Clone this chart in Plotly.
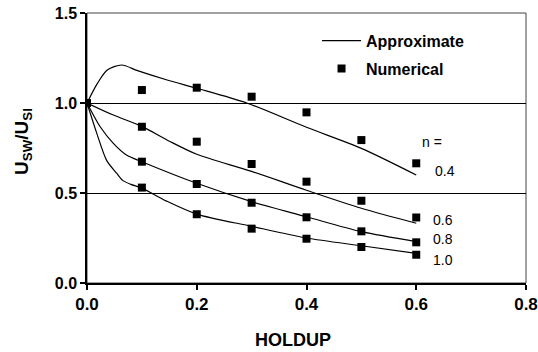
import plotly.graph_objects as go

# ---- data ----
n_values = ["0.4", "0.6", "0.8", "1.0"]

# numerical results (markers)
holdup_num = [0.0, 0.1, 0.2, 0.3, 0.4, 0.5, 0.6]
num_n04 = [1.0, 1.072, 1.085, 1.035, 0.948, 0.794, 0.665]
num_n06 = [1.0, 0.868, 0.785, 0.661, 0.563, 0.457, 0.364]
num_n08 = [1.0, 0.674, 0.550, 0.446, 0.365, 0.287, 0.226]
num_n10 = [1.0, 0.530, 0.382, 0.302, 0.246, 0.200, 0.157]

# approximate solution (curves)
apx_x_n04 = [0.0, 0.019, 0.037, 0.063, 0.092, 0.146, 0.2, 0.291, 0.4, 0.5, 0.6]
apx_y_n04 = [1.0, 1.109, 1.183, 1.211, 1.180, 1.128, 1.082, 1.0, 0.865, 0.748, 0.600]
apx_x_n06 = [0.0, 0.048, 0.1, 0.15, 0.2, 0.3, 0.4, 0.5, 0.6]
apx_y_n06 = [1.0, 0.933, 0.870, 0.788, 0.715, 0.620, 0.515, 0.415, 0.332]
apx_x_n08 = [0.0, 0.024, 0.048, 0.072, 0.1, 0.2, 0.3, 0.4, 0.5, 0.6]
apx_y_n08 = [1.0, 0.868, 0.776, 0.711, 0.674, 0.554, 0.452, 0.368, 0.285, 0.230]
apx_x_n10 = [0.0, 0.018, 0.036, 0.054, 0.065, 0.08, 0.1, 0.145, 0.2, 0.3, 0.4, 0.5, 0.6]
apx_y_n10 = [1.0, 0.830, 0.680, 0.610, 0.570, 0.548, 0.527, 0.455, 0.383, 0.315, 0.250, 0.207, 0.165]

# label positions (holdup, ratio) for the n labels
label_x = [0.630, 0.627, 0.627, 0.627]
label_y = [0.622, 0.350, 0.243, 0.128]
n_head_x = 0.607
n_head_y = 0.785

x_ticks = [0.0, 0.2, 0.4, 0.6, 0.8]
y_ticks = [0.0, 0.5, 1.0, 1.5]

x_title = "<b>HOLDUP</b>"
y_title = "<b>U<sub>SW</sub>/U<sub>SI</sub></b>"

FONT = "Liberation Sans, Arial, sans-serif"

fig = go.Figure()

curves = [(apx_x_n04, apx_y_n04), (apx_x_n06, apx_y_n06),
          (apx_x_n08, apx_y_n08), (apx_x_n10, apx_y_n10)]
for i, (cx, cy) in enumerate(curves):
    fig.add_trace(go.Scatter(
        x=cx, y=cy, mode="lines",
        line=dict(color="black", width=1.2, shape="spline", smoothing=0.8),
        name="Approximate", legendgroup="approx", showlegend=(i == 0),
        hoverinfo="skip"))

nums = [num_n04, num_n06, num_n08, num_n10]
for i, ny in enumerate(nums):
    fig.add_trace(go.Scatter(
        x=holdup_num, y=ny, mode="markers",
        marker=dict(symbol="square", size=8, color="black"),
        name="Numerical", legendgroup="num", showlegend=(i == 0)))

# n labels
fig.add_annotation(x=n_head_x, y=n_head_y, text="n =", showarrow=False,
                   xanchor="left", yanchor="middle",
                   font=dict(family=FONT, size=14, color="black"))
for lx, ly, t in zip(label_x, label_y, n_values):
    fig.add_annotation(x=lx, y=ly, text=t, showarrow=False,
                       xanchor="left", yanchor="middle",
                       font=dict(family=FONT, size=14, color="black"))

# axis titles (placed as in the reference)
fig.add_annotation(xref="paper", yref="paper", x=0.469, y=-0.211,
                   text=x_title, showarrow=False,
                   xanchor="center", yanchor="middle",
                   font=dict(family=FONT, size=18, color="black"))
fig.add_annotation(xref="paper", yref="paper", x=-0.146, y=0.526,
                   text=y_title, showarrow=False, textangle=-90,
                   xanchor="center", yanchor="middle",
                   font=dict(family=FONT, size=19, color="black"))

# outer frame (top and right borders)
fig.add_shape(type="rect", xref="paper", yref="paper", x0=0, y0=0, x1=1, y1=1,
              line=dict(color="#444444", width=1), layer="below")

fig.update_layout(
    width=538, height=352,
    margin=dict(l=87, r=12, t=13, b=69, autoexpand=False),
    paper_bgcolor="white", plot_bgcolor="white",
    font=dict(family=FONT, color="black"),
    showlegend=True,
    legend=dict(x=0.524, y=0.96, xanchor="left", yanchor="top",
                bgcolor="rgba(0,0,0,0)", borderwidth=0,
                traceorder="grouped", tracegroupgap=4, itemwidth=39,
                font=dict(family=FONT, size=16, color="black", weight="bold")),
    xaxis=dict(range=[0, 0.8], tickvals=x_ticks, tickformat=".1f",
               automargin=False, ticklabeloverflow="allow",
               showgrid=False, zeroline=False,
               showline=True, linecolor="black", linewidth=1.5,
               ticks="outside", ticklen=5, tickcolor="black", tickwidth=1.5,
               tickfont=dict(family=FONT, size=17, color="black", weight="bold")),
    yaxis=dict(range=[0, 1.5], tickvals=y_ticks, tickformat=".1f",
               automargin=False, ticklabeloverflow="allow",
               showgrid=True, gridcolor="black", gridwidth=1,
               zeroline=False,
               showline=True, linecolor="black", linewidth=1.5,
               ticks="outside", ticklen=5, tickcolor="black", tickwidth=1.5,
               tickfont=dict(family=FONT, size=16, color="black", weight="bold")),
)

# remove the browser's default page margin so the 538x352 figure fills the window
fig.write_html("out.html",
               config={"displayModeBar": False},
               post_script="document.body.style.margin='0';"
                           "document.body.style.overflow='hidden';")
